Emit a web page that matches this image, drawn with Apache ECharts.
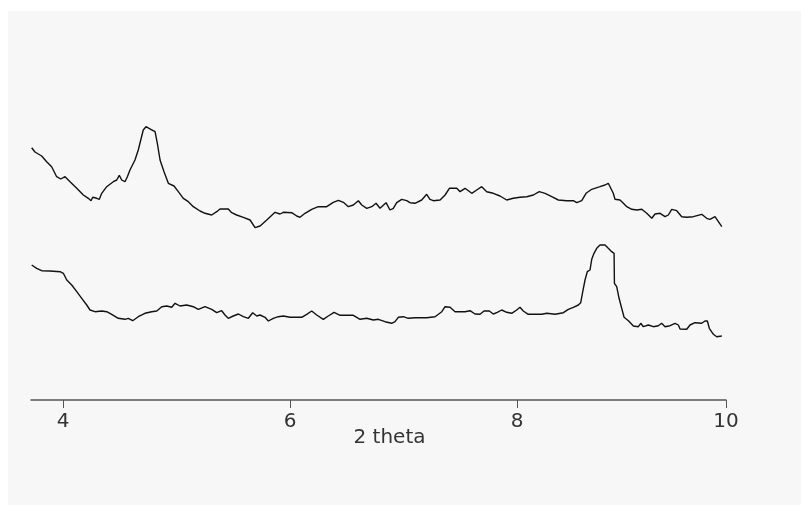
<!DOCTYPE html>
<html>
<head>
<meta charset="utf-8">
<script src="https://cdn.jsdelivr.net/npm/echarts@6/dist/echarts.min.js"></script>
<style>
  html, body { margin: 0; padding: 0; background: #fff; }
  #chart { width: 801px; height: 507px; }
</style>
</head>
<body>
<div id="chart"></div>
<script>
// upper pattern
const upperTheta = [3.724, 3.753, 3.812, 3.856, 3.900, 3.944, 3.980, 4.018, 4.062, 4.121, 4.179, 4.223, 4.247, 4.262, 4.297, 4.320, 4.341, 4.385, 4.443, 4.473, 4.496, 4.517, 4.546, 4.567, 4.590, 4.634, 4.663, 4.685, 4.707, 4.731, 4.773, 4.811, 4.831, 4.855, 4.890, 4.928, 4.978, 5.016, 5.060, 5.104, 5.148, 5.207, 5.251, 5.310, 5.354, 5.383, 5.456, 5.486, 5.530, 5.589, 5.648, 5.692, 5.736, 5.795, 5.868, 5.912, 5.941, 6.015, 6.059, 6.088, 6.132, 6.191, 6.249, 6.323, 6.381, 6.426, 6.470, 6.514, 6.558, 6.602, 6.632, 6.676, 6.720, 6.758, 6.793, 6.846, 6.881, 6.910, 6.940, 6.984, 7.028, 7.057, 7.101, 7.160, 7.204, 7.233, 7.263, 7.322, 7.366, 7.404, 7.469, 7.498, 7.542, 7.601, 7.645, 7.689, 7.733, 7.791, 7.850, 7.909, 7.967, 8.026, 8.085, 8.144, 8.196, 8.247, 8.306, 8.364, 8.438, 8.496, 8.526, 8.570, 8.608, 8.658, 8.731, 8.775, 8.804, 8.819, 8.848, 8.863, 8.907, 8.937, 8.967, 9.011, 9.055, 9.099, 9.143, 9.187, 9.216, 9.260, 9.304, 9.333, 9.363, 9.407, 9.451, 9.495, 9.553, 9.627, 9.671, 9.700, 9.744, 9.774, 9.804]
const upperCounts = [252.3, 248, 244, 238.3, 233.3, 223.3, 221, 223.3, 218.3, 211.7, 205, 201.7, 199.3, 202.7, 201.7, 200.7, 206.7, 213.3, 218.3, 220, 224.7, 220, 218.3, 223.3, 230, 240, 250, 260, 270, 273.3, 270.7, 268.3, 256.7, 240, 228.3, 216.7, 214, 208.3, 201.7, 198.3, 193.3, 189, 186.7, 185, 188.3, 191, 191, 187.3, 185, 182.7, 180, 172.3, 174, 180, 187.7, 186, 187.7, 187.3, 184, 182.7, 186.7, 190.7, 193.3, 193.3, 197.7, 199.7, 197.7, 193.3, 195, 199.3, 195, 191.7, 193.3, 196.7, 191.7, 197.3, 190, 191.7, 197.3, 200.7, 199.3, 197.3, 196.7, 200, 205.7, 200.7, 199.3, 200, 205, 211.7, 211.7, 208.3, 211.7, 206.7, 210, 213.3, 208.3, 206.7, 204, 200, 201.7, 202.7, 203.3, 205, 208.3, 206.7, 203.3, 200, 199.3, 199.3, 197.3, 199.3, 206.7, 210.7, 213.3, 215, 216.7, 215, 206.7, 200.7, 200, 196.7, 193.3, 190.7, 190, 190.7, 186.7, 181.7, 186, 186.7, 183.3, 185, 190.7, 189.3, 183.3, 182.7, 183.3, 185.7, 181.7, 180.7, 183.3, 178.3, 173.3]

// lower pattern
const lowerTheta = [3.724, 3.768, 3.812, 3.885, 3.974, 4.003, 4.033, 4.077, 4.121, 4.165, 4.209, 4.238, 4.282, 4.341, 4.385, 4.429, 4.487, 4.546, 4.575, 4.614, 4.663, 4.722, 4.781, 4.826, 4.870, 4.914, 4.958, 4.987, 5.031, 5.090, 5.148, 5.192, 5.251, 5.310, 5.354, 5.398, 5.427, 5.456, 5.500, 5.545, 5.589, 5.633, 5.671, 5.707, 5.736, 5.780, 5.809, 5.853, 5.897, 5.941, 6.000, 6.103, 6.147, 6.191, 6.235, 6.293, 6.337, 6.388, 6.441, 6.558, 6.617, 6.676, 6.734, 6.778, 6.837, 6.896, 6.925, 6.954, 6.998, 7.042, 7.101, 7.204, 7.278, 7.337, 7.366, 7.410, 7.454, 7.542, 7.586, 7.630, 7.674, 7.709, 7.756, 7.791, 7.826, 7.865, 7.909, 7.953, 7.997, 8.026, 8.055, 8.099, 8.174, 8.188, 8.218, 8.262, 8.335, 8.408, 8.452, 8.496, 8.540, 8.561, 8.579, 8.599, 8.619, 8.643, 8.658, 8.678, 8.702, 8.731, 8.775, 8.804, 8.834, 8.855, 8.858, 8.878, 8.899, 8.922, 8.943, 8.981, 9.025, 9.069, 9.090, 9.113, 9.157, 9.201, 9.245, 9.274, 9.304, 9.348, 9.392, 9.421, 9.436, 9.495, 9.524, 9.568, 9.627, 9.656, 9.677, 9.694, 9.730, 9.759, 9.804]
const lowerCounts = [135, 131.7, 129.3, 129, 128.3, 126.7, 120, 115, 108.3, 101.7, 95, 90, 88.3, 89, 88.3, 85.7, 81.7, 80.7, 81.7, 79.3, 83.3, 86.7, 88.3, 89, 93.3, 94, 92.7, 96.7, 94, 95, 93.3, 90.7, 93.3, 90.7, 87.3, 89.3, 85, 81.7, 84, 86, 83.3, 81.7, 87.3, 84, 85, 82.7, 79, 81.7, 83.3, 84, 82.7, 82.7, 85.7, 89, 85, 80.7, 84, 87.7, 84.7, 84.7, 80.7, 81.7, 80, 80.7, 78.3, 76.7, 78.3, 82.7, 83.3, 81.7, 82.3, 82.3, 83.3, 88.3, 93.3, 92.7, 88.3, 88.3, 89.3, 86, 85.7, 89, 89, 86, 87.7, 90, 87.7, 86.7, 90, 92.7, 89, 85.7, 85.7, 87.7, 85.7, 86.7, 85.7, 87.3, 90.7, 92.7, 95, 97.3, 108.3, 120, 128.3, 130, 140.7, 146.7, 151.7, 155, 155, 151.7, 148.3, 146.7, 116.7, 113.3, 101.7, 91.7, 82.7, 79.3, 74, 73.3, 76.7, 73.3, 75, 73.3, 74.3, 76.7, 73.3, 74.3, 76.7, 75, 71, 70.7, 75, 77.3, 76.7, 79, 79, 71.7, 65.7, 63.3, 64]

// axis ticks (the last tick sits at the end of the axis and reads "10")
const tickValues = [4, 6, 8, 9.841]
const tickLabels = ['4', '6', '8', '10']
const xMin = 3.718
const xMax = 9.841

function pairs (xs, ys) {
  let out = []
  for (let i = 0; i < xs.length; i++) {
    out.push([xs[i], ys[i]])
  }
  return out
}

const chart = echarts.init(document.getElementById('chart'))
chart.setOption({
  backgroundColor: '#ffffff',
  animation: false,
  graphic: [{
    type: 'rect',
    z: -10,
    shape: { x: 8, y: 11, width: 793, height: 494 },
    style: { fill: '#f7f7f7' }
  }],
  grid: {
    left: 31,
    right: 75,
    top: 0,
    bottom: 107
  },
  xAxis: {
    type: 'value',
    min: xMin,
    max: xMax,
    name: '2 theta',
    nameLocation: 'middle',
    nameGap: 28,
    nameMoveOverlap: false,
    nameTextStyle: {
      fontFamily: 'DejaVu Sans',
      fontSize: 20,
      color: '#333',
      padding: [0, 0, 0, 22]
    },
    axisLine: {
      lineStyle: { color: '#555', width: 1.5 }
    },
    axisTick: {
      customValues: tickValues,
      length: 8,
      lineStyle: { color: '#555', width: 1 }
    },
    axisLabel: {
      customValues: tickValues,
      margin: 12,
      fontFamily: 'DejaVu Sans',
      fontSize: 20,
      color: '#333',
      formatter: function (v) {
        let idx = tickValues.indexOf(v)
        return idx >= 0 ? tickLabels[idx] : ''
      }
    },
    splitLine: { show: false }
  },
  yAxis: {
    type: 'value',
    min: 0,
    max: 400,
    show: false
  },
  series: [{
    name: 'upper',
    type: 'line',
    data: pairs(upperTheta, upperCounts),
    showSymbol: false,
    color: '#111',
    lineStyle: { width: 1.4 }
  },
  {
    name: 'lower',
    type: 'line',
    data: pairs(lowerTheta, lowerCounts),
    showSymbol: false,
    color: '#111',
    lineStyle: { width: 1.4 }
  }]
})
</script>
</body>
</html>
